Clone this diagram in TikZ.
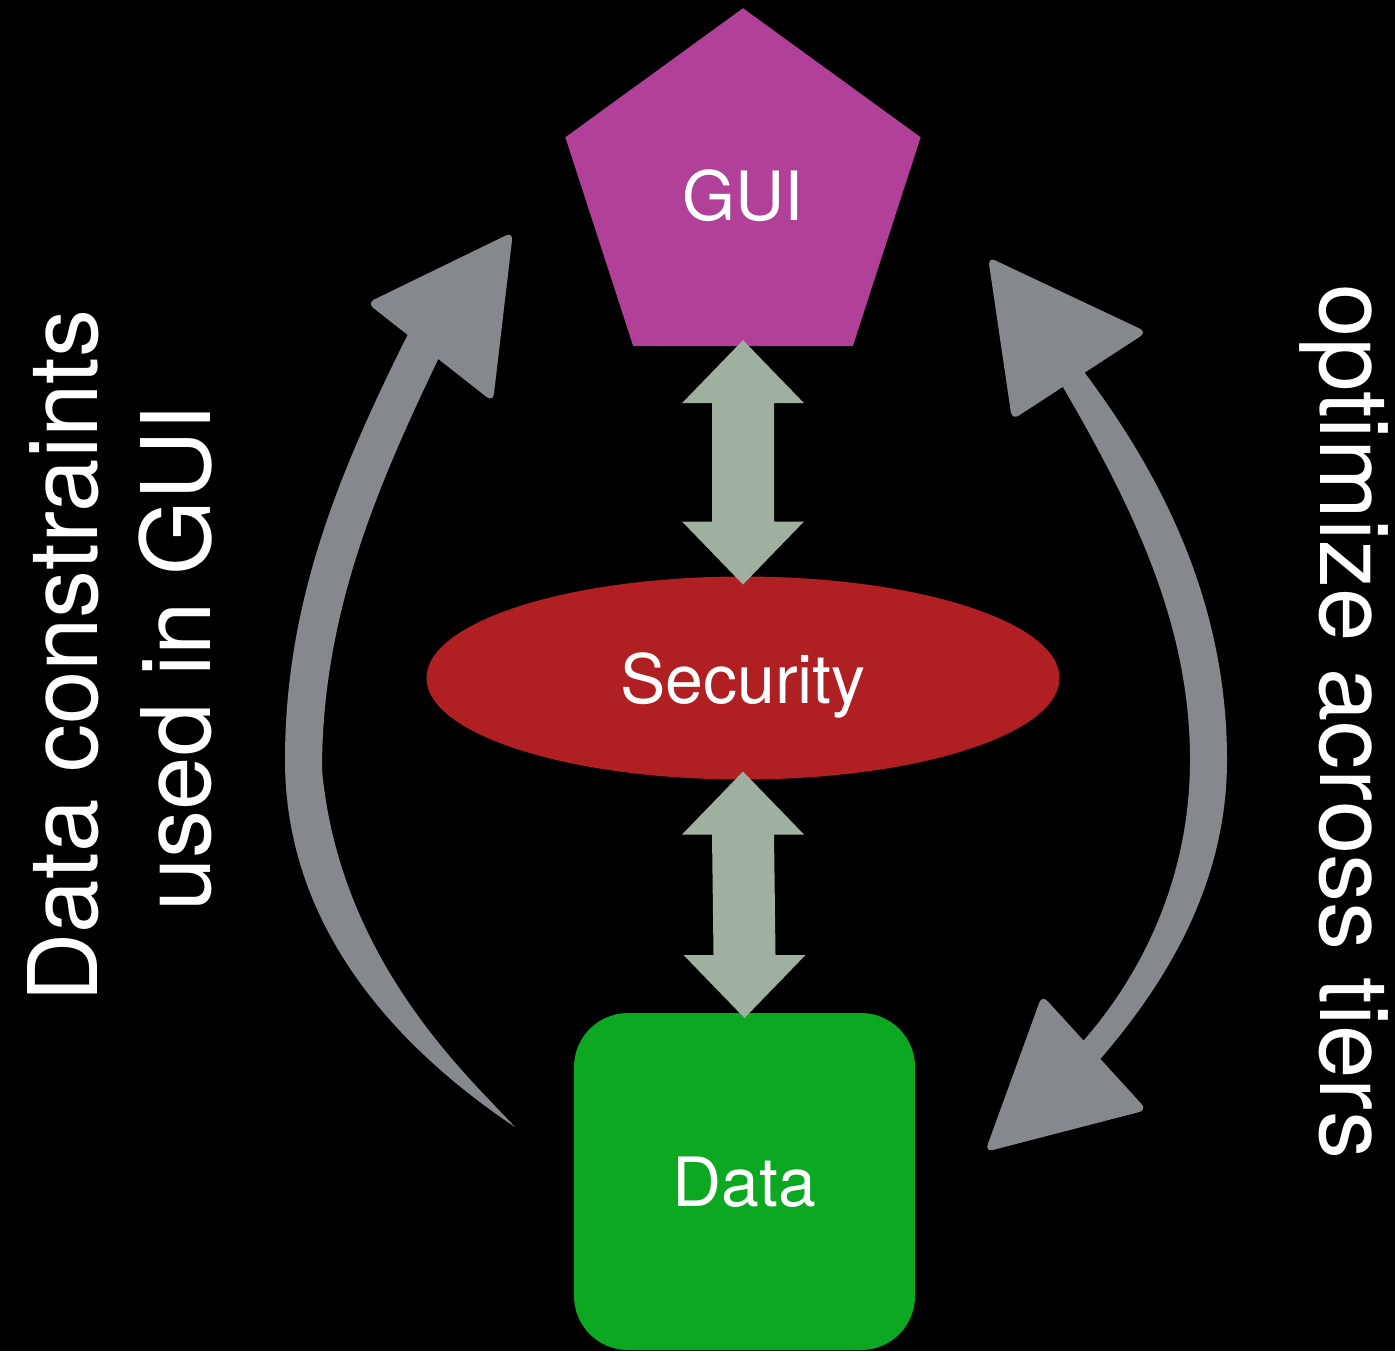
\documentclass[tikz,border=0pt]{standalone}
\usepackage{fontspec}
\setmainfont{TeX Gyre Heros}
\usetikzlibrary{shapes.geometric,calc}

\definecolor{guicol}{RGB}{176,64,152}
\definecolor{seccol}{RGB}{176,32,34}
\definecolor{datacol}{RGB}{12,168,34}
\definecolor{linkcol}{RGB}{160,176,160}
\definecolor{flowcol}{RGB}{133,136,140}

% two-way link: tip #1 on top, tip #2 at the bottom
\newcommand{\twowaylink}[2]{%
  \fill[link] (#1) -- ($(#1)+(61,63)$) -- ($(#1)+(31,63)$)
    -- ($(#2)+(31,-63)$) -- ($(#2)+(61,-63)$) -- (#2)
    -- ($(#2)+(-61,-63)$) -- ($(#2)+(-31,-63)$)
    -- ($(#1)+(-31,63)$) -- ($(#1)+(-61,63)$) -- cycle;}

\begin{document}
\begin{tikzpicture}[x=0.5pt,y=-0.5pt,
  label text/.style={text=white,font=\fontsize{34}{40}\selectfont},
  side text/.style={text=white,font=\fontsize{48}{56}\selectfont,anchor=base},
  tier/.style={inner sep=0pt,outer sep=0pt,text depth=0pt,label text},
  link/.style={fill=linkcol},
  flow/.style={fill=flowcol}]

\fill[black] (0,0) rectangle (1395,1351);
\useasboundingbox (0,0) rectangle (1395,1351);

% the three tiers
\node[tier,regular polygon,regular polygon sides=5,minimum size=186.8pt,fill=guicol]
  (gui) at (743,195) {GUI};
\node[tier,ellipse,minimum width=316.5pt,minimum height=101.5pt,fill=seccol]
  (sec) at (743,678) {Security};
\node[tier,rectangle,rounded corners=27pt,minimum width=170.5pt,minimum height=168.5pt,fill=datacol]
  (data) at (744.5,1181.5) {Data};

% links between neighbouring tiers
\coordinate (t1) at ($(gui.south)+(0,-6)$);
\coordinate (b1) at ($(sec.north)+(0,8)$);
\coordinate (t2) at ($(sec.south)+(0,-8)$);
\coordinate (b2) at ($(data.north)+(0,5)$);
\twowaylink{t1}{b1}
\twowaylink{t2}{b2}

% left sweep: tapered stroke from the data tier up to the GUI
\fill[flow] (410,330) .. controls (340,470) and (285,600) .. (285,760)
  .. controls (285,930) and (400,1050) .. (515,1127)
  .. controls (470,1078) and (340,962) .. (322,770)
  .. controls (322,610) and (380,480) .. (445,345) -- cycle;
\fill[flow,rounded corners=4pt] (513,232) -- (367,303) -- (493,402) -- cycle;

% right sweep with heads at both ends
\fill[flow] (1075,360) .. controls (1160,470) and (1227,600) .. (1227,760)
  .. controls (1227,880) and (1170,980) .. (1095,1065)
  -- (1075,1050) .. controls (1140,980) and (1190,880) .. (1190,760)
  .. controls (1190,620) and (1130,500) .. (1050,365) -- cycle;
\fill[flow,rounded corners=4pt] (988,257) -- (1147,332) -- (1012,420) -- cycle;
\fill[flow,rounded corners=4pt] (985,1152) -- (1042,995) -- (1147,1110) -- cycle;

% side captions
\node[side text,rotate=90] (lefta) at (97,656) {Data constraints};
\node[side text,rotate=90] (leftb) at (210,658) {used in GUI};
\node[side text,rotate=-90] (right) at (1320,722) {optimize across tiers};
\end{tikzpicture}
\end{document}
